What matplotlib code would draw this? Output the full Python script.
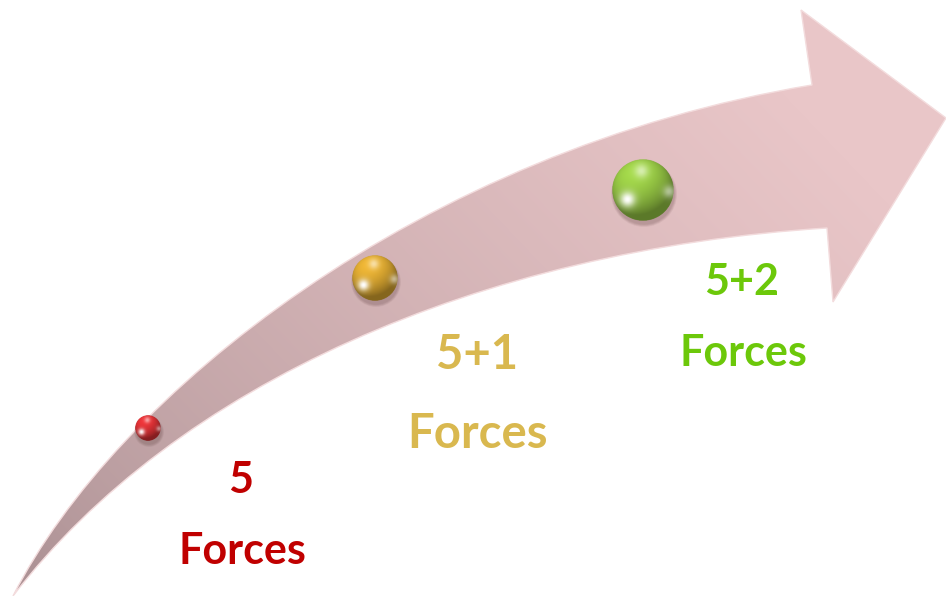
import numpy as np
import matplotlib
matplotlib.use("Agg")
import matplotlib.pyplot as plt
from matplotlib.path import Path
from matplotlib.patches import PathPatch, Circle
from matplotlib.colors import to_rgb

# ---- data ----
stage_labels = ["5", "5+1", "5+2"]
stage_word = ["Forces", "Forces", "Forces"]
stage_colors = ["#c00000", "#d9b84f", "#6cc80a"]
sphere_colors = ["#d83034", "#d8a530", "#94c443"]

W, H = 946, 596
fig = plt.figure(figsize=(W / 100, H / 100), dpi=100)
ax = fig.add_axes([0, 0, 1, 1])
ax.set_xlim(0, W)
ax.set_ylim(H, 0)
ax.axis("off")

# ---- arrow shape ----
verts = [
    (13, 596),                         # tail
    (115, 395), (420, 150), (812, 85), # upper edge (cubic)
    (801, 10),                         # head top
    (946, 118),                        # tip
    (833, 302),                        # head bottom
    (827, 228),                        # inner bottom corner
    (480, 250), (175, 385), (13, 596), # lower edge (cubic)
    (13, 596),
]
codes = [Path.MOVETO,
         Path.CURVE4, Path.CURVE4, Path.CURVE4,
         Path.LINETO, Path.LINETO, Path.LINETO, Path.LINETO,
         Path.CURVE4, Path.CURVE4, Path.CURVE4,
         Path.CLOSEPOLY]
path = Path(verts, codes)
patch = PathPatch(path, facecolor="none", edgecolor="#f3dcdd", lw=1.0, zorder=2)
ax.add_patch(patch)

# gradient fill
yy, xx = np.mgrid[0:H, 0:W]
t = (xx / W * 0.75 + (H - yy) / H * 0.45)
t = np.clip((t - 0.05) / 0.95, 0, 1)
c0 = np.array(to_rgb("#ad9295"))
c1 = np.array(to_rgb("#e9c6c8"))
img = c0 + (c1 - c0) * t[..., None] ** 0.7
im = ax.imshow(img, extent=(0, W, H, 0), zorder=1, interpolation="bilinear")
clip = PathPatch(path, transform=ax.transData, facecolor="none", edgecolor="none")
ax.add_patch(clip)
im.set_clip_path(clip)

# ---- spheres ----
centers = [(148, 428), (375, 278), (643, 190)]
radii = [13, 23, 31]


def sphere(ax, cx, cy, r, color):
    # drop shadow
    for k in range(6):
        ax.add_patch(Circle((cx + 1, cy + 4), r + 2 - k * 0.5,
                            facecolor="#5a3a3a", alpha=0.05, lw=0, zorder=3))
    n = 200
    g = np.linspace(-1, 1, n)
    X, Y = np.meshgrid(g, g)
    R2 = X ** 2 + Y ** 2
    Z = np.sqrt(np.clip(1 - R2, 0, 1))
    base = np.array(to_rgb(color))
    L = np.array([-0.3, -0.6, 0.75])
    L = L / np.linalg.norm(L)
    diff = np.clip(X * L[0] + Y * L[1] + Z * L[2], 0, 1)
    shade = 0.62 + 0.5 * diff
    col = np.clip(base[None, None, :] * shade[..., None], 0, 1)
    # highlight lower-left
    hl = np.exp(-(((X + 0.5) ** 2 + (Y - 0.3) ** 2) / 0.06))
    # top reflection
    hl2 = np.exp(-(((X + 0.05) ** 2 + (Y + 0.62) ** 2) / 0.05)) * 0.55
    # right rim light
    rim = np.exp(-(((X - 0.85) ** 2 + (Y - 0.05) ** 2) / 0.04)) * 0.5
    h = np.clip(hl + hl2 + rim, 0, 1)[..., None]
    col = col * (1 - h) + h
    rgba = np.dstack([col, (R2 <= 1).astype(float)])
    imc = ax.imshow(rgba, extent=(cx - r, cx + r, cy + r, cy - r), zorder=4,
                    interpolation="bilinear")
    cp = Circle((cx, cy), r, transform=ax.transData, facecolor="none", edgecolor="none")
    ax.add_patch(cp)
    imc.set_clip_path(cp)


for (cx, cy), r, c in zip(centers, radii, sphere_colors):
    sphere(ax, cx, cy, r, c)

# ---- text ----
num_pos = [(241, 480), (477, 355), (742, 282)]
word_pos = [(242, 551), (477, 434), (743, 353)]
sizes = [31, 34, 31]
for lab, word, col, (nx, ny), (wx, wy), fs in zip(stage_labels, stage_word, stage_colors,
                                                   num_pos, word_pos, sizes):
    ax.text(nx, ny, lab, color=col, fontsize=fs, fontweight="bold", family="Lato",
            ha="center", va="center", zorder=5)
    ax.text(wx, wy, word, color=col, fontsize=fs, fontweight="bold", family="Lato",
            ha="center", va="center", zorder=5)

fig.savefig("out.png", dpi=100, facecolor="white")
